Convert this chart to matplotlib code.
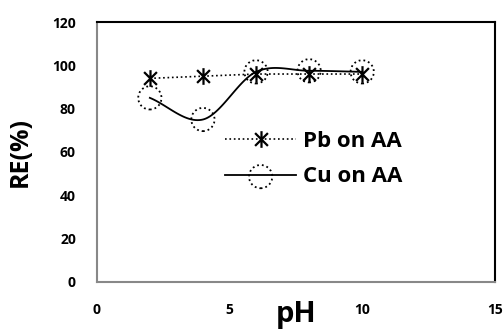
import numpy as np
import matplotlib
matplotlib.use("Agg")
import matplotlib.pyplot as plt
from matplotlib.path import Path
from matplotlib.lines import Line2D

ph = [2, 4, 6, 8, 10]
pb_re = [94, 95, 96, 96, 96]
cu_re = [85, 75, 97, 97.5, 97]
x_ticks = [0, 5, 10, 15]
y_ticks = [0, 20, 40, 60, 80, 100, 120]

plt.rcParams['font.family'] = ['Open Sans', 'DejaVu Sans']

fig = plt.figure(figsize=(5.04, 3.29), dpi=100)
ax = fig.add_axes([0.192, 0.143, 0.79, 0.79])

# asterisk marker: X plus vertical bar
star = Path([(-1, -1), (1, 1), (-1, 1), (1, -1), (0, -1.3), (0, 1.3)],
            [Path.MOVETO, Path.LINETO, Path.MOVETO, Path.LINETO, Path.MOVETO, Path.LINETO])

def catmull(xs, ys, n=30):
    xs = np.asarray(xs, float); ys = np.asarray(ys, float)
    P = np.column_stack([xs, ys])
    P = np.vstack([P[0] - (P[1] - P[0]), P, P[-1] + (P[-1] - P[-2])])
    out = []
    for i in range(1, len(P) - 2):
        p0, p1, p2, p3 = P[i-1], P[i], P[i+1], P[i+2]
        t = np.linspace(0, 1, n)[:, None]
        pt = 0.5 * ((2*p1) + (-p0 + p2)*t + (2*p0 - 5*p1 + 4*p2 - p3)*t**2 + (-p0 + 3*p1 - 3*p2 + p3)*t**3)
        out.append(pt)
    c = np.vstack(out)
    return c[:, 0], c[:, 1]

cx, cy = catmull(ph, cu_re)
ax.plot(cx, cy, color='black', lw=1.3, zorder=3)
sc = ax.scatter(ph, cu_re, s=280, facecolors='none', edgecolors='black',
                linestyles=':', linewidths=1.3, zorder=4)

pb_line, = ax.plot(ph, pb_re, color='black', ls=':', lw=1.2, marker=star,
                   markersize=12, markeredgewidth=1.6, zorder=5)

cu_line = Line2D([], [], color='black', lw=1.3)
ax.legend([pb_line, (cu_line, sc)], ['Pb on AA', 'Cu on AA'],
          loc='upper left', bbox_to_anchor=(0.30, 0.615), frameon=False,
          prop={'weight': 'bold', 'size': 16}, handlelength=3.2,
          handletextpad=0.3, labelspacing=0.65, borderaxespad=0)

ax.set_xlim(0, 15)
ax.set_ylim(0, 120)
ax.set_xticks(x_ticks)
ax.set_yticks(y_ticks)
ax.tick_params(length=0, labelsize=10)
ax.tick_params(axis='x', pad=15)
ax.tick_params(axis='y', pad=15)
for lab in ax.get_xticklabels() + ax.get_yticklabels():
    lab.set_fontweight('bold')

ax.spines['left'].set_color('#888888')
ax.spines['bottom'].set_color('#888888')
ax.spines['top'].set_color('black')
ax.spines['right'].set_color('black')
for s in ax.spines.values():
    s.set_linewidth(1.5)

ax.set_xlabel('pH', fontsize=21, fontweight='bold', labelpad=-12)
ax.set_ylabel('RE(%)', fontsize=18, fontweight='bold', labelpad=14)

fig.savefig('out.png', dpi=100)
